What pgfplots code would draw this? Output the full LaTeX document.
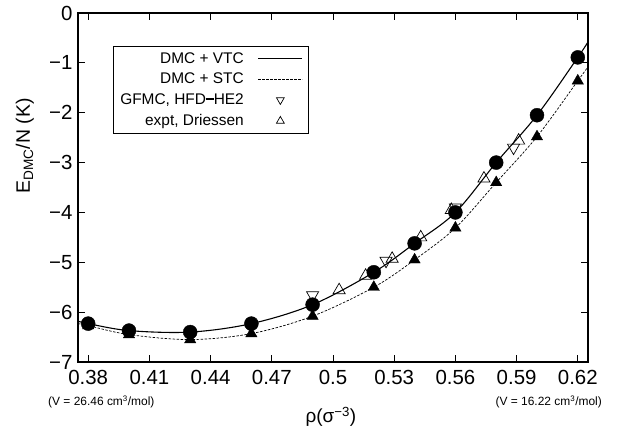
\documentclass[border=0pt]{standalone}
\usepackage{fontspec}
\setmainfont{Liberation Sans}
\usepackage{pgfplots}
\pgfplotsset{compat=1.18}
\begin{document}
\begin{tikzpicture}
\begin{axis}[
  scale only axis, width=510bp, height=349bp,
  at={(0,0)}, anchor=south west,
  xmin=0.375, xmax=0.625, ymin=-7, ymax=0,
  axis line style={line width=1.6pt},
  tick style={line width=1pt, black},
  major tick length=7bp,
  tick align=inside,
  xtick={0.38,0.41,0.44,0.47,0.5,0.53,0.56,0.59,0.62},
  xticklabels={0.38,0.41,0.44,0.47,0.5,0.53,0.56,0.59,0.62},
  ytick={0,-1,-2,-3,-4,-5,-6,-7},
  yticklabels={0,−1,−2,−3,−4,−5,−6,−7},
  ticklabel style={font=\fontsize{20.5}{24}\selectfont},
  xticklabel style={yshift=-5bp},
  yticklabel style={xshift=-2bp},
  legend style={at={(0.0686,0.9054)}, anchor=north west, draw=black, line width=0.6pt,
    font=\fontsize{15.5}{18}\selectfont, cells={anchor=east}, row sep=4.5bp,
    inner xsep=5bp, inner ysep=4bp,
    /tikz/every odd column/.append style={column sep=12bp}},
  legend plot pos=right,
  legend cell align=right,
  clip=false,
]
\addplot[black, line width=1.1pt, smooth, tension=0.55, legend image code/.code={\draw[black,line width=1.1pt] (0bp,0bp) -- (44bp,0bp);}] coordinates {
(0.375,-6.18) (0.38,-6.23) (0.40,-6.37) (0.43,-6.40) (0.46,-6.23) (0.49,-5.85) (0.52,-5.20) (0.54,-4.62) (0.56,-4.00) (0.58,-3.00) (0.60,-2.05) (0.62,-0.89) (0.625,-0.58)};
\addlegendentry{DMC + VTC}
\addplot[black, line width=0.7pt, dashed, dash pattern=on 2.5bp off 1.5bp, smooth, tension=0.55, legend image code/.code={\draw[black,line width=0.7pt,dash pattern=on 2.5bp off 1.5bp] (0bp,0bp) -- (44bp,0bp);}] coordinates {
(0.375,-6.23) (0.38,-6.27) (0.40,-6.45) (0.43,-6.55) (0.46,-6.43) (0.49,-6.08) (0.52,-5.50) (0.54,-4.95) (0.56,-4.31) (0.58,-3.40) (0.60,-2.48) (0.62,-1.36) (0.625,-1.08)};
\addlegendentry{DMC + STC}
\addplot[only marks, mark=triangle, mark size=7bp, mark options={rotate=180, fill=white, line width=0.7pt, draw=black},
  legend image code/.code={\draw[black, line width=0.7pt] plot[mark=triangle, mark size=4.5bp, mark options={rotate=180}, only marks] coordinates {(22bp,0bp)};}] coordinates {
(0.49,-5.66) (0.526,-4.97) (0.56,-3.90) (0.5885,-2.70)};
\addlegendentry{GFMC, HFD{\rule[0.3em]{0.5em}{0.12em}}HE2}
\addplot[only marks, mark=triangle, mark size=7bp, mark options={fill=white, line width=0.7pt, draw=black},
  legend image code/.code={\draw[black, line width=0.7pt] plot[mark=triangle, mark size=4.5bp, only marks] coordinates {(22bp,0bp)};}] coordinates {
(0.503,-5.56) (0.516,-5.27) (0.529,-4.93) (0.543,-4.50) (0.558,-3.95) (0.574,-3.32) (0.591,-2.56)};
\addlegendentry{expt, Driessen}
\addplot[only marks, mark=*, mark size=7bp, black, forget plot] coordinates {
(0.38,-6.23) (0.40,-6.37) (0.43,-6.40) (0.46,-6.23) (0.49,-5.85) (0.52,-5.20) (0.54,-4.62) (0.56,-4.00) (0.58,-3.00) (0.60,-2.05) (0.62,-0.89)};
\addplot[only marks, mark=triangle*, mark size=6.5bp, black, forget plot] coordinates {
(0.38,-6.27) (0.40,-6.45) (0.43,-6.55) (0.46,-6.43) (0.49,-6.08) (0.52,-5.50) (0.54,-4.95) (0.56,-4.31) (0.58,-3.40) (0.60,-2.48) (0.62,-1.36)};
\node[anchor=west, font=\fontsize{12}{14}\selectfont, inner sep=0pt] at (axis description cs:-0.0588,-0.1146) {(V = 26.46 cm\textsuperscript{3}/mol)};
\node[anchor=east, font=\fontsize{12}{14}\selectfont, inner sep=0pt] at (axis description cs:1.0275,-0.1146) {(V = 16.22 cm\textsuperscript{3}/mol)};
\node[font=\fontsize{19}{22}\selectfont, inner sep=0pt] at (axis description cs:0.496,-0.158) {ρ(σ\textsuperscript{−3})};
\node[rotate=90, font=\fontsize{19.5}{22}\selectfont, inner sep=0pt] at (axis description cs:-0.104,0.619) {E\textsubscript{DMC}/N (K)};
\end{axis}
\pgfresetboundingbox
\path[use as bounding box] (-78bp,-73bp) rectangle (540bp,362bp);
\end{tikzpicture}
\end{document}
